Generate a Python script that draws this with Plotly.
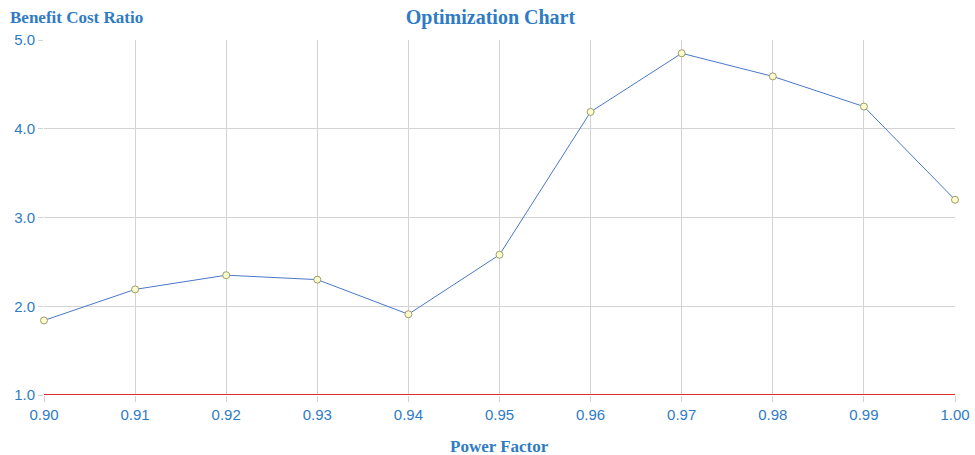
import plotly.graph_objects as go

power_factor = [0.90, 0.91, 0.92, 0.93, 0.94, 0.95, 0.96, 0.97, 0.98, 0.99, 1.00]
bcr = [1.84, 2.19, 2.35, 2.30, 1.91, 2.58, 4.19, 4.85, 4.59, 4.25, 3.20]
threshold = 1.0
x_ticks = [0.90, 0.91, 0.92, 0.93, 0.94, 0.95, 0.96, 0.97, 0.98, 0.99, 1.00]
x_tick_labels = ["0.90", "0.91", "0.92", "0.93", "0.94", "0.95", "0.96", "0.97", "0.98", "0.99", "1.00"]
y_ticks = [1.0, 2.0, 3.0, 4.0, 5.0]
y_tick_labels = ["1.0", "2.0", "3.0", "4.0", "5.0"]

blue_text = "#2f7bc4"
grid = "#d3d3d3"

fig = go.Figure()
fig.add_trace(go.Scatter(
    x=[power_factor[0], power_factor[-1]], y=[threshold, threshold],
    mode="lines", line=dict(color="#dc2f2a", width=1.8), hoverinfo="skip", showlegend=False))
fig.add_trace(go.Scatter(
    x=power_factor, y=bcr, mode="lines+markers",
    line=dict(color="#4a78c8", width=1),
    marker=dict(symbol="circle", size=7, color="#fdfdcc", line=dict(color="#9a9c70", width=1)),
    showlegend=False))

fig.update_layout(
    width=975, height=455,
    margin=dict(l=44, r=20, t=40, b=60, autoexpand=False),
    plot_bgcolor="white", paper_bgcolor="white",
    title=dict(text="<b>Optimization Chart</b>", x=0.503, xanchor="center", y=0.962, yanchor="middle",
               font=dict(family="Liberation Serif", size=20, color=blue_text)),
    xaxis=dict(range=[0.90, 1.00], tickvals=x_ticks, ticktext=x_tick_labels, automargin=False,
               showgrid=True, gridcolor=grid, gridwidth=1, zeroline=False,
               ticks="outside", ticklen=6, tickcolor=grid, showline=False,
               tickfont=dict(family="Liberation Sans", size=15, color=blue_text)),
    yaxis=dict(range=[1.0, 5.0], tickvals=y_ticks, ticktext=y_tick_labels, automargin=False,
               showgrid=True, gridcolor=grid, gridwidth=1, zeroline=False,
               ticks="outside", ticklen=5, tickcolor=grid, showline=False,
               tickfont=dict(family="Liberation Sans", size=15, color=blue_text)),
    annotations=[
        dict(text="<b>Benefit Cost Ratio</b>", xref="paper", yref="paper",
             x=-0.039, y=1.0, xanchor="left", yanchor="middle", yshift=23, showarrow=False,
             font=dict(family="Liberation Serif", size=17, color=blue_text)),
        dict(text="<b>Power Factor</b>", xref="paper", yref="paper",
             x=0.5, y=0.0, xanchor="center", yanchor="middle", yshift=-51, showarrow=False,
             font=dict(family="Liberation Serif", size=17, color=blue_text)),
    ],
)
fig.update_traces(cliponaxis=False)

fig.write_html("out.html", config={"displayModeBar": False},
               post_script="document.body.style.margin='0';")
